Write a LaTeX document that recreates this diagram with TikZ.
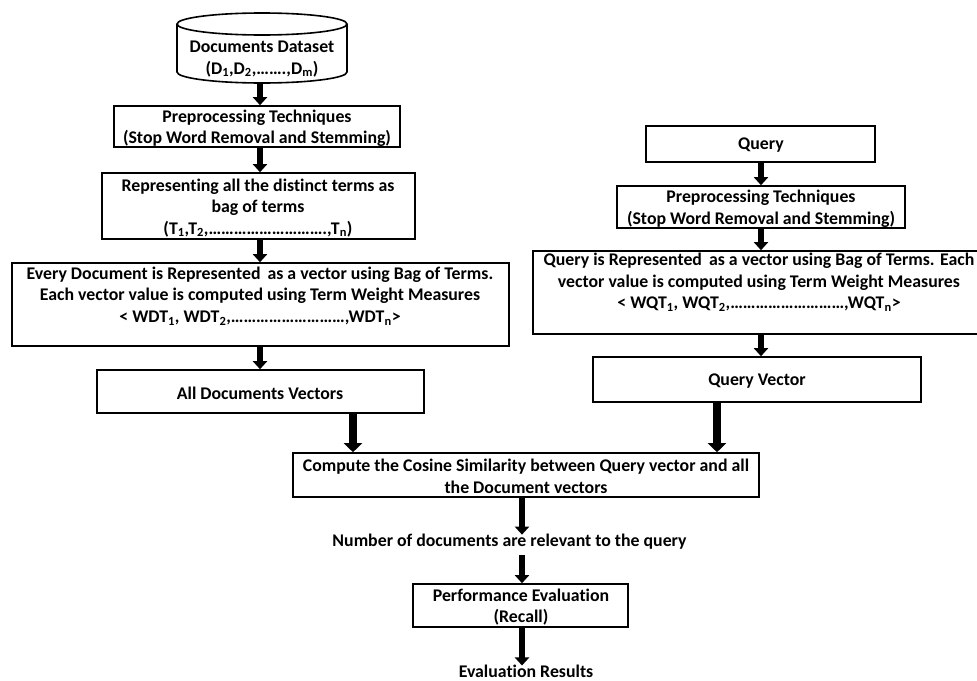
\documentclass[tikz,border=0pt]{standalone}
\usepackage{fontspec}
\setmainfont{Carlito}[Ligatures=NoCommon]
\usetikzlibrary{arrows.meta,fit}
\begin{document}
\begin{tikzpicture}[x=1pt,y=-1pt,
  box/.style={draw, line width=1.6pt, inner sep=0pt, rectangle},
  txt/.style={font=\fontsize{17.8}{21.5}\selectfont\bfseries, align=center, inner sep=0pt, yshift=-1.5pt},
  arr/.style={line width=5.5pt, -{Triangle[width=14pt,length=8pt]}},
  tarr/.style={line width=8.5pt, -{Triangle[width=18pt,length=9pt]}}]
\useasboundingbox (0,0) rectangle (977,680);
% cylinder
\draw[line width=1.6pt] (177,24) -- (177,72) arc[start angle=180,end angle=360,x radius=85pt,y radius=11pt] -- (347,24);
\draw[line width=1.6pt] (262,24) ellipse [x radius=85pt,y radius=11pt];
\coordinate (cylb) at (262,83);
\node[txt] (tcyl) at (262,57.5) {Documents Dataset\\(D\textsubscript{1},D\textsubscript{2},…….,D\textsubscript{m})};
% column x positions
\coordinate (xl) at (260,0);
\coordinate (xr) at (761,0);
\coordinate (xb) at (522,0);
\coordinate (xt1) at (353,0);
\coordinate (xt2) at (717,0);
% left column
\node[box, fit={(114,106) (400,147)}] (pre1) {};
\node[txt] (tpre1) at (257,127) {Preprocessing Techniques\\(Stop Word Removal and Stemming)};
\node[box, fit={(102,173) (415,239)}] (rep) {};
\node[txt] (trep) at (258,206.5) {Representing all the distinct terms as\\bag of terms\\(T\textsubscript{1},T\textsubscript{2},……………………….,T\textsubscript{n})};
\node[box, fit={(12,263) (509,346)}] (every) {};
\node[txt] (tevery) at (260,294.5) {Every Document is Represented\, as a vector using Bag of Terms.\\Each vector value is computed using Term Weight Measures\\\textless\ WDT\textsubscript{1}, WDT\textsubscript{2},………………………,WDT\textsubscript{n}\textgreater};
\node[box, fit={(97,370) (424,413)}] (alld) {};
\node[txt] (talld) at (260,392) {All Documents Vectors};
% right column
\node[box, fit={(646,126) (875,162)}] (query) {};
\node[txt] (tquery) at (761,144) {Query};
\node[box, fit={(617,186) (905,228)}] (pre2) {};
\node[txt] (tpre2) at (761,207.5) {Preprocessing Techniques\\(Stop Word Removal and Stemming)};
\node[box, fit={(533,251) (985,334)}] (qrep) {};
\node[txt] (tqrep) at (759,281) {Query is Represented\, as a vector using Bag of Terms. Each\\vector value is computed using Term Weight Measures\\\textless\ WQT\textsubscript{1}, WQT\textsubscript{2},………………………,WQT\textsubscript{n}\textgreater};
\node[box, fit={(593,357) (921,402)}] (qvec) {};
\node[txt] (tqvec) at (757,380) {Query Vector};
% bottom
\node[box, fit={(293,453) (759,497)}] (comp) {};
\node[txt] (tcomp) at (526,475) {Compute the Cosine Similarity between Query vector and all\\the Document vectors};
\node[txt] (tnum) at (509.5,540) {Number of documents are relevant to the query};
\node[box, fit={(413,584) (628,627)}] (perf) {};
\node[txt] (tperf) at (521,605.5) {Performance Evaluation\\(Recall)};
\node[txt] (teval) at (526,669.5) {Evaluation Results};
% arrows
\draw[arr] (cylb -| xl) -- (pre1.north -| xl);
\draw[arr] (pre1.south -| xl) -- (rep.north -| xl);
\draw[arr] (rep.south -| xl) -- (every.north -| xl);
\draw[arr] (every.south -| xl) -- (alld.north -| xl);
\draw[tarr] (alld.south -| xt1) -- (comp.north -| xt1);
\draw[arr] (query.south -| xr) -- (pre2.north -| xr);
\draw[arr] (pre2.south -| xr) -- (qrep.north -| xr);
\draw[arr] (qrep.south -| xr) -- (qvec.north -| xr);
\draw[tarr] (qvec.south -| xt2) -- (comp.north -| xt2);
\draw[arr] (comp.south -| xb) -- ([yshift=-1pt]tnum.north -| xb);
\draw[arr] ([yshift=-6pt]tnum.south -| xb) -- (perf.north -| xb);
\draw[arr] (perf.south -| xb) -- ([yshift=-1pt]teval.north -| xb);
\end{tikzpicture}
\end{document}
